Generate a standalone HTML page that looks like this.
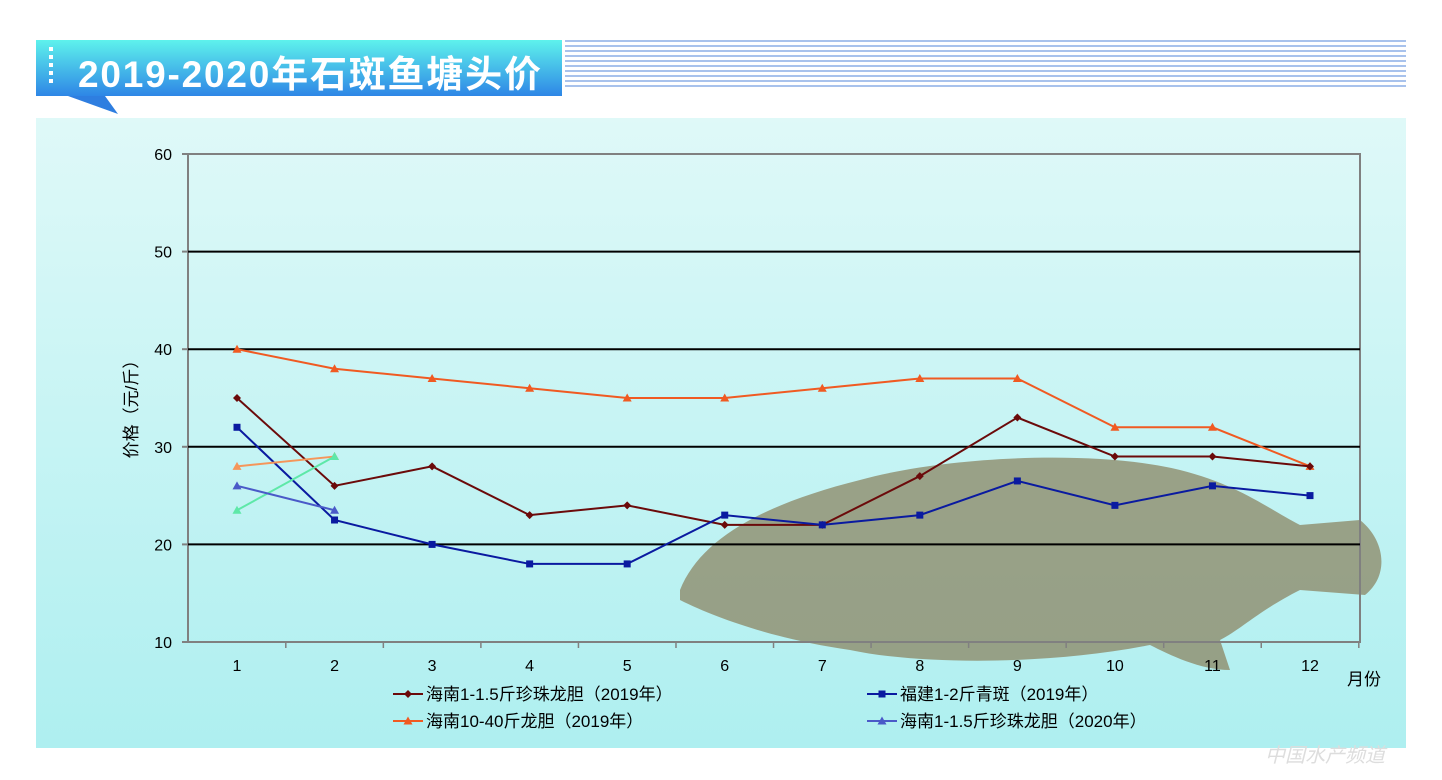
<!DOCTYPE html>
<html><head><meta charset="utf-8"><style>
body{margin:0;width:1442px;height:780px;background:#fff;position:relative;overflow:hidden;font-family:"Liberation Sans","Noto Sans CJK SC",sans-serif}
#banner{position:absolute;left:36px;top:40px;width:526px;height:56px;background:linear-gradient(#5ef2ec,#2e86e6)}
#title{position:absolute;left:78px;top:44px;font-size:37px;font-weight:bold;color:#fff;white-space:nowrap;letter-spacing:1.8px}
#stripes{position:absolute;left:565px;top:40px;width:841px;height:50px;background:repeating-linear-gradient(#a8c2ec 0 2px,#fff 2px 5px)}
#panel{position:absolute;left:36px;top:118px;width:1370px;height:630px;background:linear-gradient(#dff9f8,#aeeff0)}
</style></head><body>
<div id="stripes"></div>
<div id="banner"></div>
<svg style="position:absolute;left:0;top:0" width="1442" height="780"><polygon points="68,96 105,96 118,114" fill="#2e7ee0"/><g fill="#fff"><rect x="49" y="47" width="4" height="4"/><rect x="49" y="55" width="4" height="4"/><rect x="49" y="63" width="4" height="4"/><rect x="49" y="71" width="4" height="4"/><rect x="49" y="79" width="4" height="4"/></g></svg>
<div id="title">2019-2020年石斑鱼塘头价</div>
<div id="panel"></div>
<svg id="chart" style="position:absolute;left:0;top:0" width="1442" height="780"></svg>
<script>
const months=[1,2,3,4,5,6,7,8,9,10,11,12];
const yTicks=[10,20,30,40,50,60];
const sHainan19=[35,26,28,23,24,22,22,27,33,29,29,28];
const sFujian19=[32,22.5,20,18,18,23,22,23,26.5,24,26,25];
const sHainanBig19=[40,38,37,36,35,35,36,37,37,32,32,28];
const sHainanBig20=[28,29];
const sGreen=[23.5,29];
const sHainan20=[26,23.5];
const NS="http://www.w3.org/2000/svg";
const svg=document.getElementById('chart');
const L=188,R=1360,T=154,B=642;
const x=m=>237+(m-1)*(1310-237)/11;
const y=v=>B-(v-10)*(B-T)/50;
function mk(t,a){const e=document.createElementNS(NS,t);for(const k in a)e.setAttribute(k,a[k]);svg.appendChild(e);return e;}
const fish=mk('path',{d:'M680,590 C700,540 760,505 860,480 C950,455 1100,450 1180,470 C1240,485 1270,510 1300,525 L1360,520 C1385,540 1390,575 1365,595 L1300,590 C1260,610 1240,630 1220,640 L1230,670 C1200,670 1170,655 1150,645 C1050,665 920,665 850,650 C780,640 720,620 680,600 Z',fill:'#8f8c6c',opacity:'0.8'});


const box=mk('rect',{x:L,y:T,width:R-L,height:B-T,fill:'none',stroke:'#808080','stroke-width':2});


yTicks.forEach(v=>{
 if(v>10&&v<60){const g=mk('line',{x1:L,x2:R,y1:y(v),y2:y(v),stroke:'#000','stroke-width':2});
 
 }
 mk('line',{x1:L-6,x2:L,y1:y(v),y2:y(v),stroke:'#808080','stroke-width':2});
 const t=mk('text',{x:L-16,y:y(v)+6,'text-anchor':'end','font-size':16,fill:'#000'});t.textContent=v;
 
 
});
months.forEach(m=>{
 mk('line',{x1:x(m)+48.8,x2:x(m)+48.8,y1:B,y2:B+6,stroke:'#808080','stroke-width':1.5});
 const t=mk('text',{x:x(m),y:B+29,'text-anchor':'middle','font-size':16,fill:'#000'});t.textContent=m;
 
 
});
const yt=mk('text',{x:137,y:405,'text-anchor':'middle','font-size':17,transform:'rotate(-90 137 405)'});yt.textContent='价格（元/斤）';


const xt=mk('text',{x:1347,y:685,'font-size':17});xt.textContent='月份';


function marker(cx,cy,shape,color){
 if(shape==='d')return mk('path',{d:`M${cx},${cy-4}L${cx+4},${cy}L${cx},${cy+4}L${cx-4},${cy}Z`,fill:color});
 if(shape==='s')return mk('rect',{x:cx-3.5,y:cy-3.5,width:7,height:7,fill:color});
 return mk('path',{d:`M${cx},${cy-4.5}L${cx+4.5},${cy+3.5}L${cx-4.5},${cy+3.5}Z`,fill:color});
}
function series(vals,color,shape,name){
 const p=mk('polyline',{points:vals.map((v,i)=>x(months[i])+','+y(v)).join(' '),fill:'none',stroke:color,'stroke-width':2});
 
 
 vals.forEach((v,i)=>marker(x(months[i]),y(v),shape,color));
}
series(sHainanBig19,'#f05a22','t','series-hainan-10-40-2019');
series(sHainan19,'#6b0a0a','d','series-hainan-1-1.5-2019');
series(sFujian19,'#0a1aa0','s','series-fujian-2019');
series(sHainanBig20,'#f5965a','t','series-hainan-10-40-2020');
series(sGreen,'#5ee8a8','t','series-green-2020');
series(sHainan20,'#4a5ac8','t','series-hainan-1-1.5-2020');
const leg=[[393,694,'#6b0a0a','d','海南1-1.5斤珍珠龙胆（2019年）'],[867,694,'#0a1aa0','s','福建1-2斤青斑（2019年）'],[393,721,'#f05a22','t','海南10-40斤龙胆（2019年）'],[867,721,'#4a5ac8','t','海南1-1.5斤珍珠龙胆（2020年）']];
leg.forEach(l=>{
 const ln=mk('line',{x1:l[0],x2:l[0]+30,y1:l[1],y2:l[1],stroke:l[2],'stroke-width':2});
 
 
 marker(l[0]+15,l[1],l[3],l[2]);
 const t=mk('text',{x:l[0]+33,y:l[1]+6,'font-size':17});t.textContent=l[4];
 
 
});
const wm=mk('text',{x:1265,y:762,'font-size':20,fill:'#ddd','font-style':'italic'});wm.textContent='中国水产频道';


</script>
</body></html>
